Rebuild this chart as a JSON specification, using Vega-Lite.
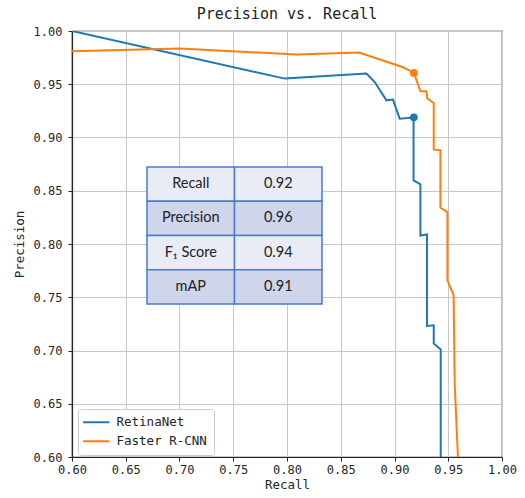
{
  "$schema": "https://vega.github.io/schema/vega-lite/v6.json",
  "width": 430,
  "height": 426,
  "autosize": {"type": "none"},
  "padding": {"left": 72, "top": 31, "right": 23, "bottom": 41},
  "title": {"text": "Precision vs. Recall", "font": "DejaVu Sans Mono", "fontSize": 15, "fontWeight": "normal", "color": "#222222", "offset": 3},
  "datasets": {
    "curves": [
      {"model": "RetinaNet", "i": 0, "recall": 0.6, "precision": 1.0},
      {"model": "RetinaNet", "i": 1, "recall": 0.798, "precision": 0.9553},
      {"model": "RetinaNet", "i": 2, "recall": 0.8739, "precision": 0.96},
      {"model": "RetinaNet", "i": 3, "recall": 0.8816, "precision": 0.9521},
      {"model": "RetinaNet", "i": 4, "recall": 0.8925, "precision": 0.9349},
      {"model": "RetinaNet", "i": 5, "recall": 0.8986, "precision": 0.9356},
      {"model": "RetinaNet", "i": 6, "recall": 0.9048, "precision": 0.9177},
      {"model": "RetinaNet", "i": 7, "recall": 0.9177, "precision": 0.9187},
      {"model": "RetinaNet", "i": 8, "recall": 0.9177, "precision": 0.8598},
      {"model": "RetinaNet", "i": 9, "recall": 0.9241, "precision": 0.856},
      {"model": "RetinaNet", "i": 10, "recall": 0.9241, "precision": 0.808},
      {"model": "RetinaNet", "i": 11, "recall": 0.9302, "precision": 0.809},
      {"model": "RetinaNet", "i": 12, "recall": 0.9302, "precision": 0.723},
      {"model": "RetinaNet", "i": 13, "recall": 0.9365, "precision": 0.7237},
      {"model": "RetinaNet", "i": 14, "recall": 0.9365, "precision": 0.7065},
      {"model": "RetinaNet", "i": 15, "recall": 0.943, "precision": 0.701},
      {"model": "RetinaNet", "i": 16, "recall": 0.943, "precision": 0.6},
      {"model": "Faster R-CNN", "i": 0, "recall": 0.6, "precision": 0.981},
      {"model": "Faster R-CNN", "i": 1, "recall": 0.7002, "precision": 0.9835},
      {"model": "Faster R-CNN", "i": 2, "recall": 0.8087, "precision": 0.978},
      {"model": "Faster R-CNN", "i": 3, "recall": 0.867, "precision": 0.9797},
      {"model": "Faster R-CNN", "i": 4, "recall": 0.908, "precision": 0.966},
      {"model": "Faster R-CNN", "i": 5, "recall": 0.918, "precision": 0.9606},
      {"model": "Faster R-CNN", "i": 6, "recall": 0.9241, "precision": 0.9434},
      {"model": "Faster R-CNN", "i": 7, "recall": 0.9297, "precision": 0.9434},
      {"model": "Faster R-CNN", "i": 8, "recall": 0.9306, "precision": 0.9365},
      {"model": "Faster R-CNN", "i": 9, "recall": 0.9365, "precision": 0.9324},
      {"model": "Faster R-CNN", "i": 10, "recall": 0.9365, "precision": 0.8886},
      {"model": "Faster R-CNN", "i": 11, "recall": 0.9427, "precision": 0.888},
      {"model": "Faster R-CNN", "i": 12, "recall": 0.9427, "precision": 0.834},
      {"model": "Faster R-CNN", "i": 13, "recall": 0.9492, "precision": 0.83},
      {"model": "Faster R-CNN", "i": 14, "recall": 0.9492, "precision": 0.766},
      {"model": "Faster R-CNN", "i": 15, "recall": 0.955, "precision": 0.752},
      {"model": "Faster R-CNN", "i": 16, "recall": 0.956, "precision": 0.669},
      {"model": "Faster R-CNN", "i": 17, "recall": 0.959, "precision": 0.6}
    ],
    "best": [
      {"model": "RetinaNet", "recall": 0.918, "precision": 0.919},
      {"model": "Faster R-CNN", "recall": 0.918, "precision": 0.9606}
    ],
    "table": [
      {"metric": "Recall", "col": "name", "text": "Recall"},
      {"metric": "Recall", "col": "value", "text": "0.92"},
      {"metric": "Precision", "col": "name", "text": "Precision"},
      {"metric": "Precision", "col": "value", "text": "0.96"},
      {"metric": "F1", "col": "name", "text": "F₁ Score"},
      {"metric": "F1", "col": "value", "text": "0.94"},
      {"metric": "mAP", "col": "name", "text": "mAP"},
      {"metric": "mAP", "col": "value", "text": "0.91"}
    ]
  },
  "layer": [
    {
      "layer": [
        {
          "data": {"name": "curves"},
          "mark": {"type": "line", "strokeWidth": 2, "clip": true},
          "encoding": {
            "x": {"field": "recall", "type": "quantitative", "title": "Recall",
                  "scale": {"domain": [0.6, 1.0], "nice": false, "zero": false},
                  "axis": {"values": [0.6, 0.65, 0.7, 0.75, 0.8, 0.85, 0.9, 0.95, 1.0], "format": ".2f", "labelPadding": 3, "titlePadding": 3}},
            "y": {"field": "precision", "type": "quantitative", "title": "Precision",
                  "scale": {"domain": [0.6, 1.0], "nice": false, "zero": false},
                  "axis": {"values": [0.6, 0.65, 0.7, 0.75, 0.8, 0.85, 0.9, 0.95, 1.0], "format": ".2f", "labelPadding": 6, "titlePadding": 7}},
            "color": {"field": "model", "type": "nominal",
                      "scale": {"domain": ["RetinaNet", "Faster R-CNN"], "range": ["#1f77b4", "#ff7f0e"]},
                      "legend": {"orient": "none", "legendX": 6, "legendY": 378, "title": null,
                                 "symbolType": "M-3.5,0H3.5", "symbolSize": 56, "symbolStrokeWidth": 2, "symbolOffset": 5,
                                 "labelFont": "DejaVu Sans Mono", "labelFontSize": 12.5, "labelColor": "#222222", "labelOffset": 14,
                                 "fillColor": "white", "strokeColor": "#cccccc", "padding": 7, "cornerRadius": 3, "rowPadding": 6}},
            "order": {"field": "i", "type": "quantitative"}
          }
        },
        {
          "data": {"name": "best"},
          "mark": {"type": "point", "filled": true, "size": 60, "opacity": 1},
          "encoding": {
            "x": {"field": "recall", "type": "quantitative"},
            "y": {"field": "precision", "type": "quantitative"},
            "color": {"field": "model", "type": "nominal"}
          }
        }
      ]
    },
    {
      "data": {"name": "table"},
      "layer": [
        {
          "mark": {"type": "rect", "stroke": "#4a7bd0", "strokeWidth": 1.5},
          "encoding": {
            "x": {"field": "col", "type": "nominal", "axis": null,
                  "scale": {"domain": ["name", "value"], "range": [75, 250], "paddingInner": 0, "paddingOuter": 0}},
            "y": {"field": "metric", "type": "nominal", "axis": null,
                  "scale": {"domain": ["Recall", "Precision", "F1", "mAP"], "range": [136, 273], "paddingInner": 0, "paddingOuter": 0}},
            "fill": {"condition": {"test": "datum.metric == 'Precision' || datum.metric == 'mAP'", "value": "#cfd5ea"}, "value": "#e9ebf5"}
          }
        },
        {
          "mark": {"type": "text", "font": "Lato", "fontSize": 14.5, "color": "#222222", "align": "center", "baseline": "middle"},
          "encoding": {
            "x": {"field": "col", "type": "nominal", "axis": null},
            "y": {"field": "metric", "type": "nominal", "axis": null},
            "text": {"field": "text"}
          }
        }
      ]
    }
  ],
  "resolve": {"scale": {"x": "independent", "y": "independent"}},
  "config": {
    "view": {"stroke": "#262626", "strokeWidth": 1.2},
    "axis": {
      "labelFont": "DejaVu Sans Mono", "labelFontSize": 12, "labelColor": "#262626",
      "labelFlush": false, "labelOverlap": false,
      "titleFont": "DejaVu Sans Mono", "titleFontSize": 12.5, "titleFontWeight": "normal", "titleColor": "#262626",
      "tickColor": "#262626", "tickSize": 4, "domainColor": "#262626", "domainWidth": 1.2,
      "gridColor": "#c8c8c8", "gridWidth": 1
    }
  }
}
